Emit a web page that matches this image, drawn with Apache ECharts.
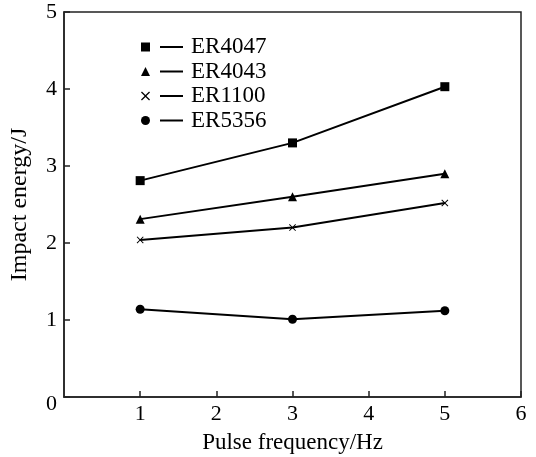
<!DOCTYPE html>
<html>
<head>
<meta charset="utf-8">
<script src="https://cdn.jsdelivr.net/npm/echarts@6/dist/echarts.min.js"></script>
<style>
  html, body { margin: 0; padding: 0; background: #fff; }
  #chart { width: 536px; height: 457px; }
</style>
</head>
<body>
<div id="chart"></div>
<script>
// pulse frequency (Hz)
const frequencies = [1, 3, 5]
const er4047 = [2.81, 3.30, 4.03]
const er4043 = [2.31, 2.60, 2.90]
const er1100 = [2.04, 2.20, 2.52]
const er5356 = [1.14, 1.01, 1.12]

const seriesNames = ['ER4047', 'ER4043', 'ER1100', 'ER5356']
const crossPath = 'path://M0,1L1,0L5,4L9,0L10,1L6,5L10,9L9,10L5,6L1,10L0,9L4,5Z'
const symbols = ['rect', 'triangle', crossPath, 'circle']
const symbolSizes = [9, 9, 7, 9]
const valueSets = [er4047, er4043, er1100, er5356]

const fontFamily = '"Liberation Serif", "DejaVu Serif", serif'

const chart = echarts.init(document.getElementById('chart'))

const series = seriesNames.map((name, i) => ({
  name,
  type: 'line',
  data: frequencies.map((f, j) => [f, valueSets[i][j]]),
  symbol: symbols[i],
  symbolSize: symbolSizes[i],
  showAllSymbol: true,
  itemStyle: { color: '#000' },
  lineStyle: { color: '#000', width: 2 },
  emphasis: { disabled: true }
}))

const legendText = { fontFamily, fontSize: 23, color: '#000', lineHeight: 24 }

const option = {
  animation: false,
  backgroundColor: '#fff',
  grid: {
    left: 64, top: 12, right: 15, bottom: 60,
    outerBoundsMode: 'none',
    containLabel: false,
    show: true,
    borderColor: '#222',
    borderWidth: 1.5
  },
  legend: [
    {
      // marker column
      orient: 'vertical',
      left: 141, top: 35,
      padding: 0,
      itemWidth: 9, itemHeight: 9,
      itemGap: 0.5,
      selectedMode: false,
      data: seriesNames.map((name, i) => ({ name, icon: symbols[i] })),
      formatter: () => ' ',
      textStyle: legendText
    },
    {
      // line + label column
      orient: 'vertical',
      left: 160, top: 35,
      padding: 0,
      itemWidth: 23, itemHeight: 2,
      itemGap: 0.5,
      icon: 'rect',
      selectedMode: false,
      data: seriesNames,
      textStyle: Object.assign({ padding: [0, 0, 0, 3] }, legendText)
    }
  ],
  xAxis: {
    type: 'value',
    min: 0, max: 6, interval: 1,
    name: 'Pulse frequency/Hz',
    nameLocation: 'middle',
    nameGap: 34,
    nameTextStyle: { fontFamily, fontSize: 23, color: '#000' },
    axisLine: { show: true, lineStyle: { color: '#222', width: 1.5 } },
    axisTick: { show: true, inside: true, length: 6, lineStyle: { color: '#222', width: 1.5 } },
    axisLabel: { fontFamily, fontSize: 22, color: '#000', margin: 6, showMinLabel: false },
    splitLine: { show: false }
  },
  yAxis: {
    type: 'value',
    min: 0, max: 5, interval: 1,
    name: 'Impact energy/J',
    nameLocation: 'middle',
    nameGap: 32,
    nameRotate: 90,
    nameTextStyle: { fontFamily, fontSize: 24, color: '#000' },
    axisLine: { show: true, lineStyle: { color: '#222', width: 1.5 } },
    axisTick: { show: true, inside: true, length: 6, lineStyle: { color: '#222', width: 1.5 } },
    axisLabel: {
      fontFamily, fontSize: 22, color: '#000', margin: 7,
      formatter: v => (v === 0 ? '{z|0}' : String(v)),
      rich: { z: { fontFamily, fontSize: 22, color: '#000', padding: [14, 0, 0, 0] } }
    },
    splitLine: { show: false }
  },
  series
}

chart.setOption(option)
</script>
</body>
</html>
